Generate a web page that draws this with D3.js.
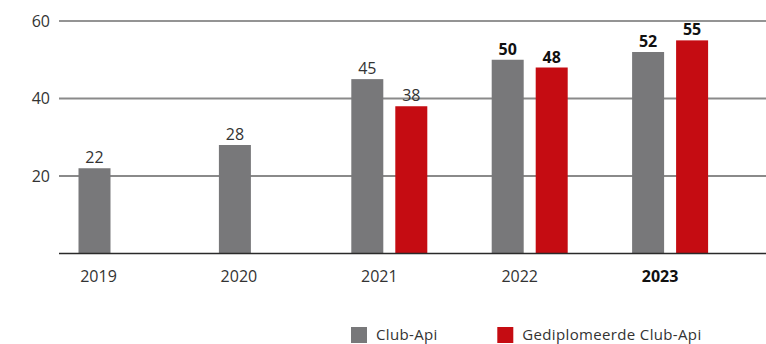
<!DOCTYPE html>
<html>
<head>
<meta charset="utf-8">
<script src="https://cdn.jsdelivr.net/npm/d3@7"></script>
<style>
  html, body { margin: 0; padding: 0; background: #fff; }
  svg { display: block; font-family: "Open Sans", sans-serif; }
</style>
</head>
<body>
<svg id="chart" width="766" height="344"></svg>
<script>
// Categories, series and tick labels
const years = ["2019", "2020", "2021", "2022", "2023"];
const clubApi = [22, 28, 45, 50, 52];
const gediplomeerd = [null, null, 38, 48, 55];
const yTicks = [20, 40, 60];
const boldYears = ["2022", "2023"];     // value labels drawn bold
const highlightYear = "2023";           // axis label drawn bold

const seriesNames = ["Club-Api", "Gediplomeerde Club-Api"];
const seriesColors = ["#78787a", "#c50c12"];

const rows = years.map((y, i) => ({ year: y, values: [clubApi[i], gediplomeerd[i]] }));

const svg = d3.select("#chart");
const width = 766;

const y = d3.scaleLinear().domain([0, 60]).range([253.5, 21]);
const x = d3.scaleBand().domain(years).range([28.3, 730.3]).padding(0);
// position of the two bars within a year, relative to its centre
const xs = d3.scaleBand().domain([0, 1]).range([-28, 48]).paddingInner(12 / 44).paddingOuter(0);
const barW = xs.bandwidth();

// horizontal gridlines
const gridX0 = 59;
svg.append("g").selectAll("line").data(yTicks).join("line")
  .attr("x1", gridX0).attr("x2", width)
  .attr("y1", d => y(d)).attr("y2", d => y(d))
  .attr("stroke", d => d === 60 ? "#2a2a2a" : "#8a8a8a")
  .attr("stroke-width", d => d === 60 ? 1.2 : 1.8);

// y tick labels
svg.append("g").selectAll("text").data(yTicks).join("text")
  .attr("x", 50).attr("y", d => y(d))
  .attr("dy", "0.36em")
  .attr("text-anchor", "end")
  .attr("font-size", 16)
  .attr("fill", "#333")
  .text(d => d);

// bars
const bars = [];
rows.forEach(r => {
  const cx = x(r.year) + x.bandwidth() / 2;
  const present = r.values.map((v, k) => v == null ? null : k).filter(k => k != null);
  present.forEach(k => {
    const left = present.length === 1 ? cx - 4 - barW / 2 : cx + xs(k);
    bars.push({ year: r.year, k, v: r.values[k], left });
  });
});

svg.append("g").selectAll("rect").data(bars).join("rect")
  .attr("x", d => d.left)
  .attr("width", barW)
  .attr("y", d => y(d.v))
  .attr("height", d => y(0) - y(d.v))
  .attr("fill", d => seriesColors[d.k]);

// value labels
svg.append("g").selectAll("text").data(bars).join("text")
  .attr("x", d => d.left + barW / 2)
  .attr("y", d => y(d.v) - 5)
  .attr("text-anchor", "middle")
  .attr("font-size", 16)
  .attr("font-weight", d => boldYears.includes(d.year) ? 700 : 400)
  .attr("fill", d => boldYears.includes(d.year) ? "#111" : "#333")
  .text(d => d.v);

// baseline
svg.append("line")
  .attr("x1", gridX0).attr("x2", width)
  .attr("y1", y(0)).attr("y2", y(0))
  .attr("stroke", "#2a2a2a").attr("stroke-width", 1.4);

// x axis labels
svg.append("g").selectAll("text").data(years).join("text")
  .attr("x", d => x(d) + x.bandwidth() / 2)
  .attr("y", 282.3)
  .attr("text-anchor", "middle")
  .attr("font-size", 16)
  .attr("font-weight", d => d === highlightYear ? 700 : 400)
  .attr("fill", d => d === highlightYear ? "#111" : "#333")
  .text(d => d);

// legend
const legendX = [351, 497.3];
const lg = svg.append("g").selectAll("g").data(seriesNames).join("g")
  .attr("transform", (d, i) => `translate(${legendX[i]},327)`);
lg.append("rect").attr("width", 16).attr("height", 16).attr("fill", (d, i) => seriesColors[i]);
lg.append("text").attr("x", 25).attr("y", 12.5)
  .attr("font-size", 15).attr("letter-spacing", 0.35)
  .attr("fill", "#333").text(d => d);
</script>
</body>
</html>
